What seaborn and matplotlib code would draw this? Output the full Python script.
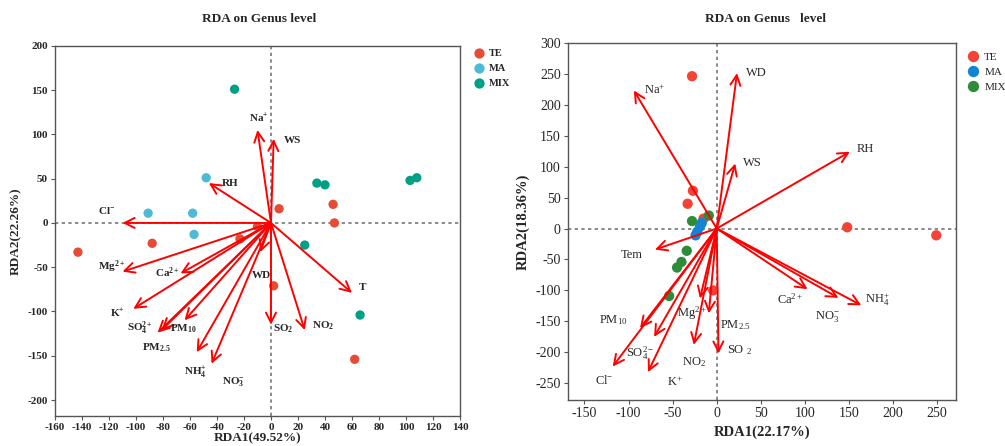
import pandas as pd
import matplotlib
matplotlib.use("Agg")
import matplotlib.pyplot as plt
import seaborn as sns

sns.set_style("white")
plt.rcParams['font.family'] = ['Liberation Serif', 'DejaVu Serif']
plt.rcParams['mathtext.fontset'] = 'custom'
plt.rcParams['mathtext.rm'] = 'Liberation Serif'
plt.rcParams['mathtext.it'] = 'Liberation Serif:italic'
plt.rcParams['mathtext.bf'] = 'Liberation Serif:bold'
plt.rcParams['axes.unicode_minus'] = False

# ---- left panel: samples ----
a_te_x = [-143, -88, -23, -10, 6, 46, 47, 2, 62]
a_te_y = [-33, -23, -18, -4, 16, 21, 0, -71, -154]
a_ma_x = [-48, -91, -58, -57]
a_ma_y = [51, 11, 11, -13]
a_mix_x = [-27, 34, 40, 103, 108, 25, 66]
a_mix_y = [151, 45, 43, 48, 51, -25, -104]

# ---- left panel: environmental arrows ----
a_env = [r'Na$^{\mathbf{+}}$', 'WS', 'RH', r'Cl$^{\mathbf{-}}$', r'Mg$^{\mathbf{2+}}$',
         r'Ca$^{\mathbf{2+}}$', r'K$^{\mathbf{+}}$', r'SO$_{\mathbf{4}}^{\mathbf{2+}}$',
         r'PM$_{\mathbf{2.5}}$', r'PM$_{\mathbf{10}}$', r'NH$_{\mathbf{4}}^{\mathbf{+}}$',
         r'NO$_{\mathbf{3}}^{\mathbf{-}}$', 'WD', r'SO$_{\mathbf{2}}$', r'NO$_{\mathbf{2}}$', 'T']
a_env_x = [-10, 2, -46, -110, -110, -67, -102, -81, -84, -64, -55, -44, -8, 0, 25, 60]
a_env_y = [105, 95, 45, 0, -55, -57, -97, -121, -124, -110, -146, -159, -33, -115, -121, -79]
a_lab_x = [-9, 16, -30, -122, -118, -77, -114, -97, -85, -65, -56, -28, -7, 9, 39, 68]
a_lab_y = [118, 93, 45, 14, -49, -56, -102, -119, -141, -120, -168, -180, -59, -119, -116, -73]

# ---- right panel: samples ----
b_te_x = [-28, -27, -33, -15, -4, 148, 249]
b_te_y = [246, 61, 40, 16, -100, 2, -11]
b_ma_x = [-17, -19, -22, -24]
b_ma_y = [9, 3, -5, -11]
b_mix_x = [-9, -28, -34, -40, -45, -54]
b_mix_y = [21, 12, -36, -54, -63, -109]

# ---- right panel: environmental arrows ----
b_env = [r'Na$^{\mathrm{+}}$', 'WD', 'WS', 'RH', 'Tem', r'Ca$^{\mathrm{2+}}$',
         r'NO$_{\mathrm{3}}^{\mathrm{-}}$', r'NH$_{\mathrm{4}}^{\mathrm{+}}$', r'PM$_{\mathrm{10}}$',
         r'Cl$^{\mathrm{-}}$', r'SO$_{\mathrm{4}}^{\mathrm{2-}}$', r'K$^{\mathrm{+}}$',
         r'Mg$^{\mathrm{2+}}$', r'PM$_{\mathrm{2.5}}$', r'NO$_{\mathrm{2}}$', r'SO $_{\mathrm{2}}$']
b_env_x = [-94, 23, 21, 151, -70, 103, 138, 164, -87, -118, -71, -78, -19, -9, -26, 2]
b_env_y = [223, 251, 105, 124, -34, -98, -112, -124, -161, -223, -175, -232, -113, -137, -188, -202]
b_lab_x = [-70, 45, 40, 169, -96, 83, 126, 182, -117, -128, -87, -47, -28, 21, -26, 26]
b_lab_y = [223, 251, 106, 129, -42, -114, -142, -115, -148, -245, -202, -248, -137, -156, -215, -196]

groups = ['TE', 'MA', 'MIX']
a_colors = ['#E64B35', '#4DBBD5', '#00A087']
b_colors = ['#F44336', '#1284D6', '#2E8B3A']


def samples(te_x, te_y, ma_x, ma_y, mix_x, mix_y):
    return pd.DataFrame({
        'x': te_x + ma_x + mix_x,
        'y': te_y + ma_y + mix_y,
        'group': ['TE'] * len(te_x) + ['MA'] * len(ma_x) + ['MIX'] * len(mix_x),
    })


def draw_panel(ax, df, colors, env, ex, ey, lx, ly, weight, size, fsize):
    ax.axhline(0, color='#777777', ls=(0, (2, 2)), lw=1.2, zorder=1)
    ax.axvline(0, color='#777777', ls=(0, (2, 2)), lw=1.2, zorder=1)
    sns.scatterplot(data=df, x='x', y='y', hue='group', hue_order=groups,
                    palette=colors, s=size, linewidth=0, ax=ax, zorder=2)
    for name, x, y, tx, ty in zip(env, ex, ey, lx, ly):
        ax.annotate('', xy=(x, y), xytext=(0, 0),
                    arrowprops=dict(arrowstyle='->', color='red', lw=1.4,
                                    mutation_scale=18, shrinkA=0, shrinkB=0),
                    zorder=3)
        ax.text(tx, ty, name, ha='center', va='center', fontsize=fsize,
                fontweight=weight, zorder=4)
    for sp in ax.spines.values():
        sp.set_color('#555555')
        sp.set_linewidth(1.0)
    ax.tick_params(axis='both', which='both', direction='out', length=3,
                   color='#555555', bottom=True, left=True, pad=2)


fig = plt.figure(figsize=(10.05, 4.46), dpi=100)
ax1 = fig.add_axes([0.0547, 0.0673, 0.403, 0.830])
ax2 = fig.add_axes([0.5649, 0.1031, 0.386, 0.801])

df_a = samples(a_te_x, a_te_y, a_ma_x, a_ma_y, a_mix_x, a_mix_y)
df_b = samples(b_te_x, b_te_y, b_ma_x, b_ma_y, b_mix_x, b_mix_y)

draw_panel(ax1, df_a, a_colors, a_env, a_env_x, a_env_y, a_lab_x, a_lab_y, 'bold', 45, 8)
draw_panel(ax2, df_b, b_colors, b_env, b_env_x, b_env_y, b_lab_x, b_lab_y, 'normal', 55, 9)

ax1.set_xlim(-160, 140)
ax1.set_ylim(-218, 200)
ax1.set_xticks(range(-160, 141, 20))
ax1.set_yticks(range(-200, 201, 50))
for lab in ax1.get_xticklabels() + ax1.get_yticklabels():
    lab.set_fontweight('bold')
    lab.set_fontsize(8)
ax1.set_xlabel('RDA1(49.52%)', fontsize=9.5, fontweight='bold', labelpad=0)
ax1.set_ylabel('RDA2(22.26%)', fontsize=9.5, fontweight='bold', labelpad=4)

ax2.set_xlim(-169, 271)
ax2.set_ylim(-277, 300)
ax2.set_xticks(range(-150, 251, 50))
ax2.set_yticks(range(-250, 301, 50))
for lab in ax2.get_xticklabels() + ax2.get_yticklabels():
    lab.set_fontsize(10)
ax2.set_xlabel('RDA1(22.17%)', fontsize=10.5, fontweight='bold', labelpad=4)
ax2.set_ylabel('RDA2(18.36%)', fontsize=10.5, fontweight='bold', labelpad=4)

fig.text(0.258, 0.958, 'RDA on Genus level', ha='center', va='center',
         fontsize=9.5, fontweight='bold')
fig.text(0.762, 0.958, 'RDA on Genus   level', ha='center', va='center',
         fontsize=9.5, fontweight='bold')

sns.move_legend(ax1, 'upper left', bbox_to_anchor=(1.01, 1.003), frameon=False,
                title=None, handletextpad=0.0, labelspacing=0.55,
                prop={'weight': 'bold', 'size': 7.5}, markerscale=1.1,
                borderaxespad=0.0)
sns.move_legend(ax2, 'upper left', bbox_to_anchor=(1.005, 0.985), frameon=False,
                title=None, handletextpad=0.0, labelspacing=0.45,
                prop={'size': 8}, markerscale=1.1, borderaxespad=0.0)

fig.savefig('out.png', dpi=100)
